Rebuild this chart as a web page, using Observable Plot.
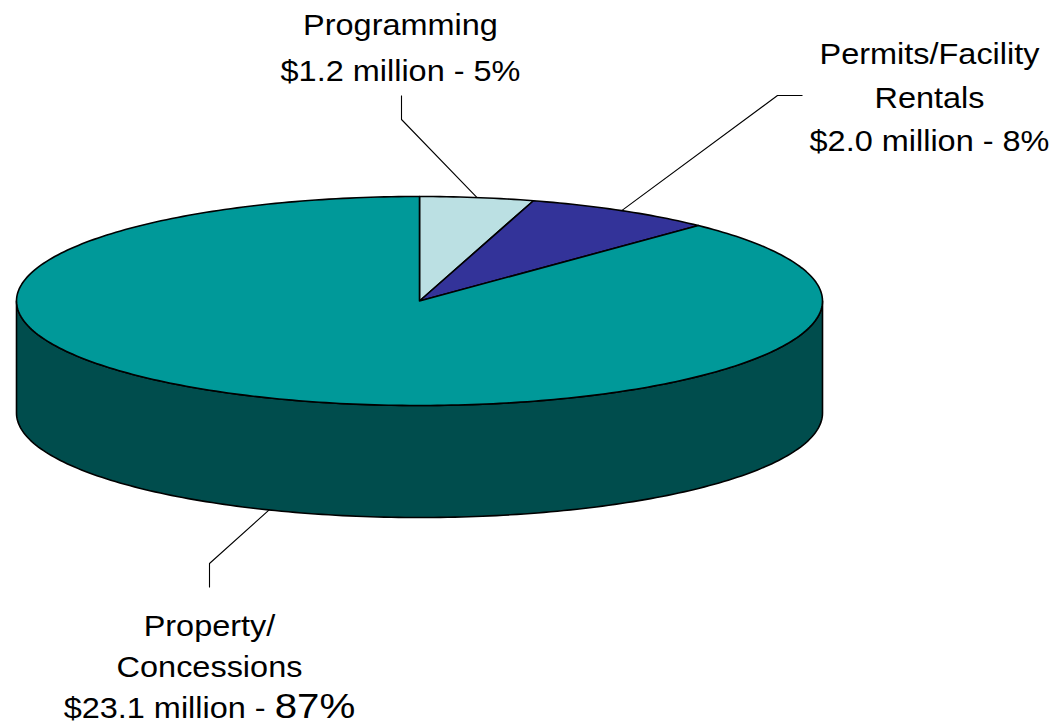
<!DOCTYPE html>
<html>
<head>
<meta charset="utf-8">
<script src="https://cdn.jsdelivr.net/npm/d3@7"></script>
<script src="https://cdn.jsdelivr.net/npm/@observablehq/plot@0.6"></script>
<style>
  html, body { margin: 0; padding: 0; background: #ffffff; }
  #chart svg { display: block; }
</style>
</head>
<body>
<div id="chart"></div>
<script>
// ---- Data ----
const categories = ["Programming", "Permits/Facility Rentals", "Property/Concessions"];
const amounts = [1.2, 2.0, 23.1];           // $ million
const percents = [5, 8, 87];                // as printed on the chart
const nameLines = [["Programming"], ["Permits/Facility", "Rentals"], ["Property/", "Concessions"]];
const topColors = ["#BBE0E3", "#333399", "#009999"];

// ---- Layout (not data) ----
const W = 1057, H = 725;
const pie = { cx: 419, cy: 300.5, rx: 403, ry: 104.5, depth: 112 };
const FONT = 29, STRETCH = 1.12;
const labelLayout = [
  { cx: 400, baselines: [34, 80], elbow: [401, 119], end: [401, 95], pctSize: FONT },
  { cx: 929, baselines: [63, 107, 150], elbow: [777, 95], end: [802, 95], pctSize: FONT },
  { cx: 209, baselines: [635, 676, 717], elbow: [209, 563], end: [209, 587], pctSize: 36 }
];

const shade = (c, k) => { const r = d3.rgb(c); return d3.rgb(r.r * k, r.g * k, r.b * k).formatHex(); };

// angles clockwise from 12 o'clock
const total = d3.sum(amounts);
let acc = 0;
const slices = categories.map((c, i) => {
  const a0 = acc / total * 2 * Math.PI;
  acc += amounts[i];
  const a1 = acc / total * 2 * Math.PI;
  return { i, c, a0, a1, mid: (a0 + a1) / 2 };
});
const P = (a, dy = 0) => ({ x: pie.cx + pie.rx * Math.sin(a), y: pie.cy - pie.ry * Math.cos(a) + dy });
function arc(a0, a1, dy = 0) {
  const n = Math.max(2, Math.ceil((a1 - a0) / (2 * Math.PI) * 360));
  return d3.range(n + 1).map(k => P(a0 + (a1 - a0) * k / n, dy));
}

const marks = [];

// side walls (front half only: angles PI/2 .. 3PI/2)
slices.forEach(s => {
  const lo = Math.max(s.a0, Math.PI / 2), hi = Math.min(s.a1, 3 * Math.PI / 2);
  if (hi <= lo) return;
  const pts = [...arc(lo, hi, 0), ...arc(lo, hi, pie.depth).reverse()];
  marks.push(Plot.line(pts, {
    x: "x", y: "y", curve: "linear-closed",
    fill: shade(topColors[s.i], 0.5), stroke: "#000", strokeWidth: 1.6,
    strokeLinejoin: "round"
  }));
});

// top faces
slices.forEach(s => {
  const pts = [{ x: pie.cx, y: pie.cy }, ...arc(s.a0, s.a1, 0)];
  marks.push(Plot.line(pts, {
    x: "x", y: "y", curve: "linear-closed",
    fill: topColors[s.i], stroke: "#000", strokeWidth: 1.6,
    strokeLinejoin: "round"
  }));
});

// leader lines
slices.forEach(s => {
  const L = labelLayout[s.i];
  const onFront = Math.cos(s.mid) < 0;   // lower half -> point on wall bottom
  const start = P(s.mid, onFront ? pie.depth : 0);
  const pts = [start, { x: L.elbow[0], y: L.elbow[1] }, { x: L.end[0], y: L.end[1] }];
  marks.push(Plot.line(pts, { x: "x", y: "y", stroke: "#000", strokeWidth: 1.1, strokeLinecap: "butt" }));
});

// labels
const textRows = [];
slices.forEach(s => {
  const L = labelLayout[s.i];
  const lines = [...nameLines[s.i], `$${amounts[s.i].toFixed(1)} million - ${percents[s.i]}%`];
  lines.forEach((t, j) => textRows.push({
    x: L.cx, y: L.baselines[j], text: t,
    isValue: j === lines.length - 1, pctSize: L.pctSize, pct: `${percents[s.i]}%`
  }));
});
marks.push(Plot.text(textRows, {
  x: "x", y: "y", text: "text", textAnchor: "middle", lineAnchor: "bottom",
  fontSize: FONT, fill: "#000", fontFamily: "'Liberation Sans', Arial, sans-serif"
}));

const chart = Plot.plot({
  width: W, height: H, margin: 0,
  x: { domain: [0, W], range: [0, W], axis: null },
  y: { domain: [0, H], range: [0, H], axis: null },
  style: { background: "#ffffff", overflow: "visible" },
  marks
});

// stretch glyphs horizontally to match the reference's wide lettering; enlarge the big percentage
const texts = chart.querySelectorAll('g[aria-label="text"] text');
texts.forEach((t, k) => {
  let tr = t.getAttribute("transform");
  if (!tr) {
    const x = t.getAttribute("x") || 0, y = t.getAttribute("y") || 0;
    t.removeAttribute("x"); t.removeAttribute("y");
    tr = `translate(${x},${y})`;
  }
  t.setAttribute("transform", `${tr} scale(${STRETCH},1)`);
  const row = textRows[k];
  if (row && row.isValue && row.pctSize !== FONT) {
    const full = row.text;
    const head = full.slice(0, full.length - row.pct.length);
    t.textContent = "";
    t.appendChild(document.createTextNode(head));
    const ts = document.createElementNS("http://www.w3.org/2000/svg", "tspan");
    ts.setAttribute("font-size", row.pctSize);
    ts.textContent = row.pct;
    t.appendChild(ts);
  }
});

document.getElementById("chart").appendChild(chart);
</script>
</body>
</html>
